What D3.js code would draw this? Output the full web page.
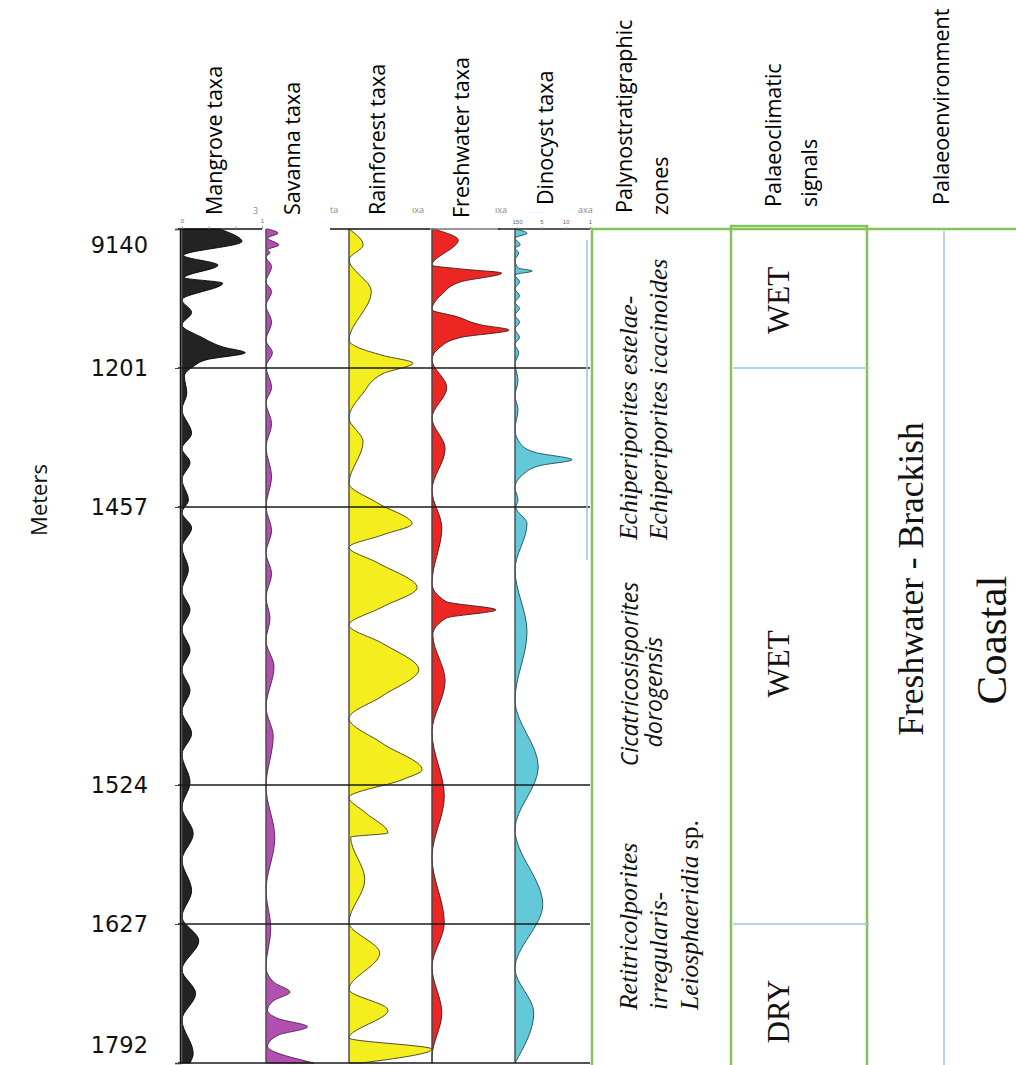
<!DOCTYPE html>
<html><head><meta charset="utf-8">
<script src="https://cdn.jsdelivr.net/npm/d3@7"></script>
<style>body{margin:0;background:#fff}svg{display:block}</style>
</head><body>
<svg id="chart" width="1016" height="1065"></svg>
<script>
// Depth markers as printed on the log, and their position in zone units
const depthLabels = ["9140", "1201", "1457", "1524", "1627", "1792"];
const depthMarks = [0, 1, 2, 4, 5, 6];

const taxaNames = ["Mangrove taxa", "Savanna taxa", "Rainforest taxa", "Freshwater taxa", "Dinocyst taxa"];

// Abundance curves: [depth (zone units), relative abundance 0..1]
const mangrove = [[0,0.47],[0.09,0.75],[0.19,0.02],[0.26,0.45],[0.35,0.03],[0.39,0.51],[0.51,0],[0.6,0.12],[0.69,0],
  [0.78,0.25],[0.85,0.52],[0.89,0.79],[0.94,0.31],[0.99,0.14],[1.06,0.03],[1.18,0.06],[1.3,0],[1.47,0.12],[1.58,0],
  [1.68,0.1],[1.8,0],[1.95,0.08],[2.04,0],[2.15,0.12],[2.29,0],[2.45,0.08],[2.6,0],[2.74,0.1],[2.88,0],[3.03,0.1],
  [3.17,0],[3.32,0.1],[3.47,0],[3.63,0.12],[3.78,0],[3.98,0.1],[4.16,0],[4.35,0.14],[4.54,0],[4.76,0.12],[4.95,0],
  [5.12,0.21],[5.33,0],[5.5,0.17],[5.69,0],[5.93,0.14],[6,0.1]];
const savanna = [[0,0.02],[0.03,0.15],[0.065,0.02],[0.115,0.16],[0.15,0.02],[0.17,0.05],[0.2,0],[0.27,0.07],[0.38,0],
  [0.45,0.07],[0.55,0],[0.67,0.07],[0.8,0],[0.89,0.08],[0.99,0],[1.14,0.07],[1.25,0],[1.4,0.07],[1.57,0],[1.78,0.07],
  [2,0],[2.17,0.07],[2.33,0],[2.48,0.07],[2.65,0],[2.8,0.05],[2.96,0],[3.15,0.1],[3.44,0],[3.65,0.09],[4.01,0],
  [4.38,0.11],[4.76,0],[5.03,0.06],[5.31,0],[5.42,0.1],[5.49,0.3],[5.55,0.1],[5.62,0.02],[5.68,0.15],[5.74,0.52],
  [5.8,0.15],[5.88,0.02],[6,0.6]];
const rainforest = [[0,0],[0.115,0.17],[0.22,0],[0.45,0.27],[0.8,0],[0.85,0.1],[0.91,0.41],[0.965,0.77],[1.04,0.41],
  [1.18,0.17],[1.36,0],[1.53,0.17],[1.83,0],[1.97,0.34],[2.12,0.76],[2.2,0.41],[2.29,0],[2.4,0.34],[2.58,0.82],
  [2.72,0.4],[2.85,0],[2.98,0.4],[3.17,0.84],[3.36,0.4],[3.52,0],[3.7,0.4],[3.89,0.88],[3.96,0.65],[4.09,0],
  [4.2,0.2],[4.345,0.47],[4.375,0.02],[4.68,0.19],[4.99,0],[5.21,0.37],[5.47,0],[5.62,0.47],[5.82,0],[5.9,1],[6,0.15]];
const freshwater = [[0,0.02],[0.08,0.32],[0.26,0],[0.29,0.4],[0.317,0.85],[0.38,0.35],[0.47,0.12],[0.58,0],[0.63,0.3],
  [0.69,0.6],[0.727,0.94],[0.78,0.35],[0.85,0.1],[0.94,0],[1.14,0.18],[1.36,0],[1.58,0.16],[1.88,0],[2.15,0.12],
  [2.55,0],[2.68,0.17],[2.74,0.78],[2.8,0.17],[2.92,0.01],[3.25,0.16],[3.62,0],[4.08,0.15],[4.52,0],[4.99,0.15],
  [5.31,0],[5.64,0.12],[5.96,0],[6,0]];
const dinocyst = [[0,0],[0.03,0.16],[0.065,0],[0.115,0.07],[0.137,0],[0.173,0.05],[0.223,0],[0.28,0.04],[0.302,0.23],
  [0.33,0],[0.38,0.06],[0.43,0],[0.48,0.06],[0.53,0],[0.57,0.06],[0.62,0],[0.67,0.06],[0.72,0],[0.78,0.06],[0.83,0],
  [0.89,0.05],[0.97,0],[1.09,0.04],[1.2,0],[1.3,0.04],[1.44,0],[1.55,0.08],[1.61,0.29],[1.66,0.76],[1.7,0.35],
  [1.76,0.12],[1.86,0],[1.95,0.04],[2,0.01],[2.12,0.16],[2.45,0],[2.9,0.16],[3.39,0],[3.87,0.31],[4.32,0],[4.86,0.37],
  [5.32,0],[5.64,0.25],[6,0]];

// Scale annotations along the top of the tracks
const mangroveTicks = [0, 1/3, 2/3, 1];
const dinocystTickLabels = ["150", "5", "10", "1"];

// Interpretation columns
const columnTitles = [["Palynostratigraphic", "zones"], ["Palaeoclimatic", "signals"], ["Palaeoenvironment"]];
const climateSignals = ["WET", "WET", "DRY"];
const climateRanges = [[0, 1], [1, 5], [5, 6]];
const environments = ["Freshwater - Brackish", "Coastal"];

const svg = d3.select("#chart");
const TOP = 229, BOTTOM = 1063;
const y = d3.scaleLinear().domain([0, 6]).range([TOP, BOTTOM]);
const GREEN = "#86c25c", BLUE = "#9cc3e8";
const sans = "'Open Sans', 'Noto Sans', sans-serif";
const serif = "'Liberation Serif', 'DejaVu Serif', serif";
const HEAD = 21.5;

const tracks = [
  {data: mangrove,   x0: 182, w: 80, fill: "#232323", stroke: "#000",    hx: 222, hy: 215},
  {data: savanna,    x0: 266, w: 80, fill: "#b24fb1", stroke: "#4b214b", hx: 300, hy: 215},
  {data: rainforest, x0: 349, w: 83, fill: "#f4ee1e", stroke: "#3b3a22", hx: 385, hy: 215},
  {data: freshwater, x0: 432, w: 82, fill: "#ec2723", stroke: "#3d1a1a", hx: 469, hy: 218},
  {data: dinocyst,   x0: 515, w: 75, fill: "#63c9d8", stroke: "#1d4a54", hx: 553, hy: 205}
];
tracks.forEach((t, i) => { t.name = taxaNames[i]; t.x = d3.scaleLinear().domain([0, 1]).range([t.x0, t.x0 + t.w]); });

// Curve fills
const gCurves = svg.append("g");
tracks.forEach(t => {
  const area = d3.area()
    .curve(d3.curveMonotoneY)
    .y(d => y(d[0]))
    .x0(t.x(0))
    .x1(d => t.x(d[1]));
  gCurves.append("path")
    .attr("d", area(t.data))
    .attr("fill", t.fill)
    .attr("stroke", t.stroke)
    .attr("stroke-width", 0.9)
    .attr("stroke-linejoin", "round");
  // baseline of each track
  gCurves.append("line")
    .attr("x1", t.x(0)).attr("x2", t.x(0))
    .attr("y1", TOP).attr("y2", BOTTOM)
    .attr("stroke", "#555").attr("stroke-width", 1);
});

// Track headers (rotated)
svg.append("g").selectAll("text").data(tracks).join("text")
  .attr("transform", t => `translate(${t.hx},${t.hy}) rotate(-90)`)
  .attr("font-family", sans).attr("font-size", HEAD).attr("fill", "#000")
  .text(t => t.name);

// Top scale lines above tracks
const topLines = [[178, 262, "#111"], [330, 430, "#111"], [430, 500, "#777"], [498, 590, "#222"]];
svg.append("g").selectAll("line").data(topLines).join("line")
  .attr("x1", d => d[0]).attr("x2", d => d[1]).attr("y1", TOP).attr("y2", TOP)
  .attr("stroke", d => d[2]).attr("stroke-width", 1.6);

// Mangrove relative-abundance axis
const mAxis = d3.axisTop(tracks[0].x).tickValues(mangroveTicks).tickSize(2.5)
  .tickFormat(v => (v === 0 ? "0" : v === 1 ? "1" : ""));
const gm = svg.append("g").attr("transform", `translate(0,${TOP})`).call(mAxis);
gm.select(".domain").remove();
gm.selectAll("text").attr("font-size", 6).attr("fill", "#666").attr("dy", "-0.1em");
gm.selectAll(".tick line").attr("stroke", "#888");

// Dinocyst scale annotation
const dScale = d3.scalePoint().domain(dinocystTickLabels).range([517, 590]);
const dAxis = d3.axisTop(dScale).tickSize(2);
const gd = svg.append("g").attr("transform", `translate(0,${TOP})`).call(dAxis);
gd.select(".domain").remove();
gd.selectAll("text").attr("font-size", 6).attr("fill", "#666");
gd.selectAll(".tick line").attr("stroke", "#999");

// Partially hidden header fragments of the underlying log
const fragments = [["3", 253, 214], ["ta", 330, 213], ["ıxa", 412, 213], ["ıxa", 495, 213], ["axa", 578, 213]];
svg.append("g").selectAll("text").data(fragments).join("text")
  .attr("x", d => d[1]).attr("y", d => d[2])
  .attr("font-family", sans).attr("font-size", 9).attr("fill", "#888")
  .text(d => d[0]);
svg.append("text").attr("x", 525).attr("y", 214).attr("font-family", sans)
  .attr("font-size", 6).attr("fill", "#aaa").attr("letter-spacing", 1).text("········");

// Zone boundaries across the tracks
svg.append("g").selectAll("line").data(depthMarks.slice(1)).join("line")
  .attr("x1", 178).attr("x2", 590)
  .attr("y1", d => y(d)).attr("y2", d => y(d))
  .attr("stroke", "#1a1a1a").attr("stroke-width", 1.5);

// thin blue guide in the dinocyst track
svg.append("line").attr("x1", 587).attr("x2", 587).attr("y1", 240).attr("y2", 560)
  .attr("stroke", BLUE).attr("stroke-width", 1.5);

// Depth axis
const yAxis = d3.axisLeft(y).tickValues(depthMarks).tickSize(5).tickFormat("");
const ga = svg.append("g").attr("transform", "translate(180,0)").call(yAxis);
ga.select(".domain").attr("stroke", "#111").attr("stroke-width", 1.5);
ga.selectAll(".tick line").attr("stroke", "#444");

svg.append("g").selectAll("text").data(depthMarks).join("text")
  .attr("x", 148)
  .attr("y", d => Math.min(Math.max(y(d), 245), 1045))
  .attr("dy", "0.36em")
  .attr("text-anchor", "end")
  .attr("font-family", "'DejaVu Sans', sans-serif").attr("font-size", 22.5).attr("fill", "#111")
  .text((d, i) => depthLabels[i]);

svg.append("text")
  .attr("transform", "translate(47,500) rotate(-90)")
  .attr("text-anchor", "middle")
  .attr("font-family", sans).attr("font-size", 22).attr("fill", "#111")
  .text("Meters");

// Column titles
const titlePos = [[[632, 213], [668, 215]], [[781, 207], [817, 207]], [[949, 205]]];
columnTitles.forEach((lines, c) => lines.forEach((s, k) => {
  svg.append("text")
    .attr("transform", `translate(${titlePos[c][k][0]},${titlePos[c][k][1]}) rotate(-90)`)
    .attr("font-family", sans).attr("font-size", HEAD).attr("fill", "#000")
    .text(s);
}));

// Palynostratigraphic zone column frame
const gz = svg.append("g");
gz.append("line").attr("x1", 592).attr("x2", 592).attr("y1", TOP).attr("y2", 1065)
  .attr("stroke", GREEN).attr("stroke-width", 2.5);
gz.append("line").attr("x1", 591).attr("x2", 1016).attr("y1", TOP).attr("y2", TOP)
  .attr("stroke", GREEN).attr("stroke-width", 2.5);

// zone names
function rotText(x, yy, anchor) {
  return svg.append("text")
    .attr("transform", `translate(${x},${yy}) rotate(-90)`)
    .attr("text-anchor", anchor).attr("fill", "#111");
}
const Z = 25.5;
rotText(637, 540, "start").attr("font-family", serif).attr("font-size", Z)
  .attr("font-style", "italic").text("Echiperiporites estelae-");
rotText(667, 540, "start").attr("font-family", serif).attr("font-size", Z)
  .attr("font-style", "italic").text("Echiperiporites icacinoides");

rotText(638, 674, "middle").attr("font-family", sans).attr("font-size", 23)
  .attr("font-style", "italic").text("Cicatricosisporites");
rotText(662, 692, "middle").attr("font-family", sans).attr("font-size", 23)
  .attr("font-style", "italic").text("dorogensis");

rotText(637, 1010, "start").attr("font-family", serif).attr("font-size", Z)
  .attr("font-style", "italic").text("Retitricolporites");
rotText(667, 1010, "start").attr("font-family", serif).attr("font-size", Z)
  .attr("font-style", "italic").text("irregularis-");
const leio = rotText(698, 1010, "start").attr("font-family", serif).attr("font-size", Z);
leio.append("tspan").attr("font-style", "italic").text("Leiosphaeridia");
leio.append("tspan").text(" sp.");

// Palaeoclimatic column
const gc = svg.append("g");
gc.append("rect").attr("x", 731).attr("y", 226).attr("width", 136).attr("height", 850)
  .attr("fill", "none").attr("stroke", GREEN).attr("stroke-width", 2.5);
climateRanges.slice(1).forEach(r => {
  gc.append("line").attr("x1", 733).attr("x2", 869)
    .attr("y1", y(r[0])).attr("y2", y(r[0]))
    .attr("stroke", BLUE).attr("stroke-width", 1.5);
});
climateSignals.forEach((s, i) => {
  const mid = (climateRanges[i][0] + climateRanges[i][1]) / 2;
  gc.append("text")
    .attr("transform", `translate(${789},${y(mid) + (i ? 18 : 2)}) rotate(-90)`)
    .attr("text-anchor", "middle")
    .attr("font-family", serif).attr("font-size", 31).attr("fill", "#111")
    .text(s);
});

// Palaeoenvironment column
svg.append("line").attr("x1", 944).attr("x2", 944).attr("y1", 231).attr("y2", 1065)
  .attr("stroke", BLUE).attr("stroke-width", 1.5);
svg.append("text").attr("transform", "translate(923,579) rotate(-90)")
  .attr("text-anchor", "middle").attr("font-family", serif).attr("font-size", 35.5).attr("fill", "#111")
  .text(environments[0]);
svg.append("text").attr("transform", "translate(1006,640) rotate(-90)")
  .attr("text-anchor", "middle").attr("font-family", serif).attr("font-size", 43).attr("fill", "#111")
  .text(environments[1]);
</script>
</body></html>
